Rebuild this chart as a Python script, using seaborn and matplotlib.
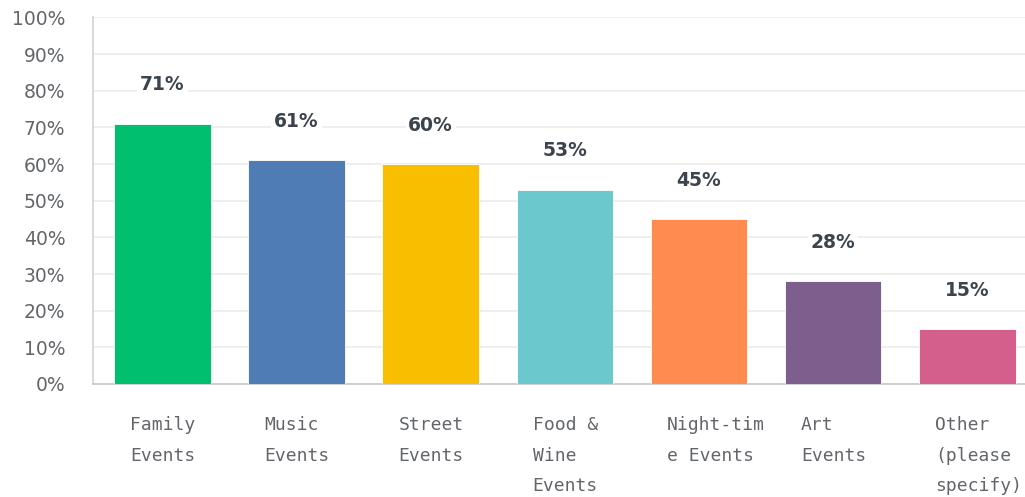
import matplotlib
matplotlib.use("Agg")
import matplotlib.pyplot as plt
import seaborn as sns
import pandas as pd
from matplotlib.ticker import FuncFormatter

# Survey responses: share of respondents per event type
categories = ["Family\nEvents", "Music\nEvents", "Street\nEvents", "Food &\nWine\nEvents",
              "Night-tim\ne Events", "Art\nEvents", "Other\n(please\nspecify)"]
percent = [71, 61, 60, 53, 45, 28, 15]
colors = ["#00bf6f", "#507cb6", "#f9be00", "#6bc8cd", "#ff8b4f", "#7d5e8c", "#d45e8c"]
y_ticks = [0, 10, 20, 30, 40, 50, 60, 70, 80, 90, 100]

df = pd.DataFrame({"category": categories, "percent": percent})

sns.set_theme(style="white")
plt.rcParams["font.family"] = ["DejaVu Sans"]

fig = plt.figure(figsize=(10.25, 4.97), dpi=100)
ax = fig.add_axes([0.0907, 0.2274, 0.9093, 0.7374])

sns.barplot(data=df, x="category", y="percent", hue="category", palette=colors,
            width=0.72, legend=False, ax=ax, saturation=1,
            edgecolor="white", linewidth=0.6, zorder=3)

ax.set_ylim(0, 100)
ax.set_xlim(-0.518, 6.43)
ax.set_yticks(y_ticks)
ax.yaxis.set_major_formatter(FuncFormatter(lambda v, _: f"{int(v)}%"))
ax.grid(axis="y", color="#ebebeb", linewidth=1.2, zorder=0)
ax.set_axisbelow(True)

for s in ["top", "right"]:
    ax.spines[s].set_visible(False)
ax.spines["left"].set_color("#d3d3d3")
ax.spines["bottom"].set_color("#c8c8c8")
ax.spines["left"].set_linewidth(1.2)
ax.spines["bottom"].set_linewidth(1.2)

ax.set_xlabel("")
ax.set_ylabel("")

# Category labels start near each bar's left edge
ax.set_xticks([i - 0.24 for i in range(len(categories))])
ax.set_xticklabels(categories, ha="left", va="top", family="DejaVu Sans Mono",
                   fontsize=13, color="#62666b", linespacing=1.9)
ax.tick_params(axis="x", length=0, pad=23)
ax.tick_params(axis="y", length=0, pad=20, labelsize=13.5, labelcolor="#62666b")

for i, v in enumerate(percent):
    ax.annotate(f"{v}%", xy=(i, v), xytext=(0, 24), textcoords="offset points",
                ha="center", va="baseline", fontsize=13.5, fontweight="semibold",
                color="#3b434d", zorder=4,
                bbox=dict(boxstyle="square,pad=0.15", fc="white", ec="none"))

fig.savefig("out.png", dpi=100, facecolor="white")
